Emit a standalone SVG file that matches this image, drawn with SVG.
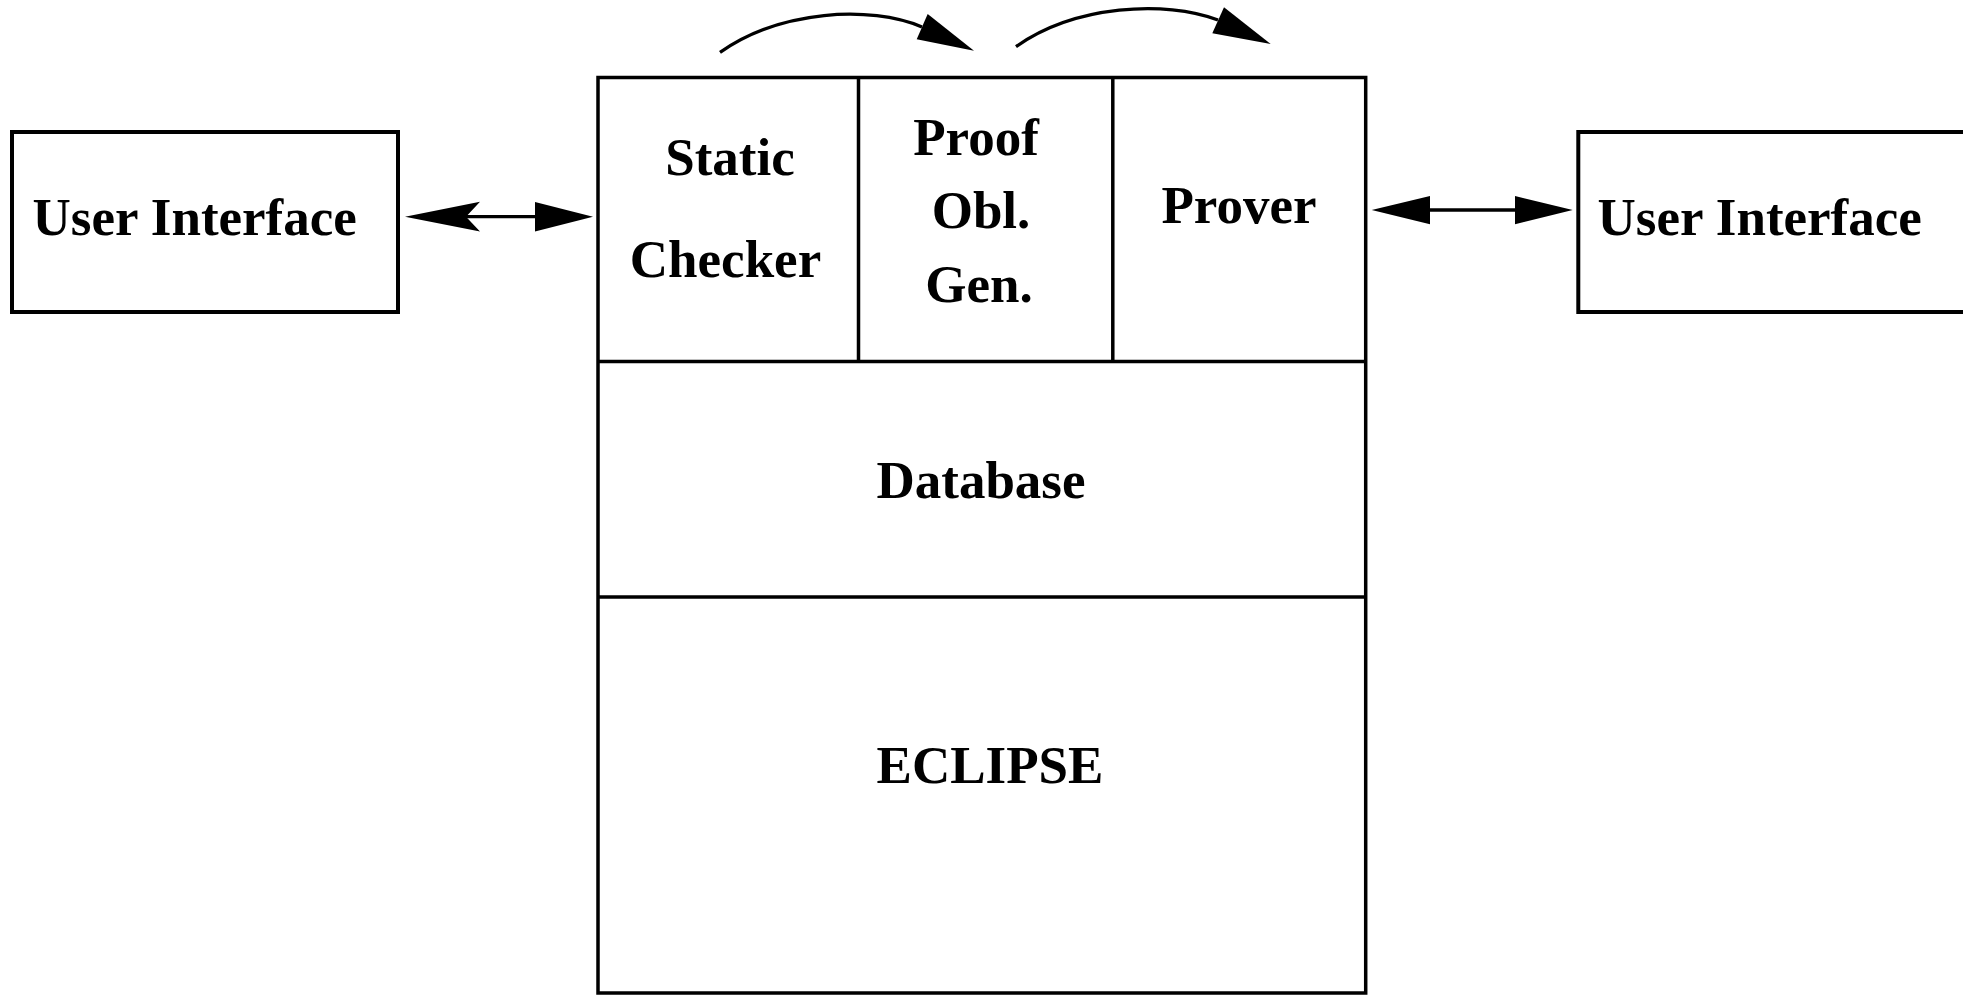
<svg xmlns="http://www.w3.org/2000/svg" width="1963" height="995" viewBox="0 0 1963 995">
<style>
.box{fill:none;stroke:#000;stroke-width:4}
.ln{fill:none;stroke:#000;stroke-width:3.5}
.sh{fill:none;stroke:#000;stroke-width:3.3}
.hd{fill:#000;stroke:none}
text{font-family:"Liberation Serif","Times New Roman",serif;font-weight:bold;font-size:53px;fill:#000;text-anchor:middle}
</style>
<rect x="0" y="0" width="1963" height="995" fill="#fff"/>
<g id="ui-left">
<rect class="box" x="12" y="132" width="386" height="180"/>
<text x="194.7" y="235">User Interface</text>
</g>
<g id="ui-right">
<rect class="box" x="1578.3" y="132" width="420" height="180"/>
<text x="1759.7" y="235">User Interface</text>
</g>
<g id="core">
<rect class="ln" x="598" y="77.5" width="767.7" height="915.5"/>
<line class="ln" x1="598" y1="361.5" x2="1365.7" y2="361.5"/>
<line class="ln" x1="598" y1="597" x2="1365.7" y2="597"/>
</g>
<g id="static-checker">
<line class="ln" x1="858.5" y1="77.5" x2="858.5" y2="361.5"/>
<text x="730" y="175">Static</text>
<text x="725.5" y="276.7">Checker</text>
</g>
<g id="proof-obl-gen">
<line class="ln" x1="1112.8" y1="77.5" x2="1112.8" y2="361.5"/>
<text x="976" y="155">Proof</text>
<text x="981" y="228.3">Obl.</text>
<text x="979" y="301.7">Gen.</text>
</g>
<g id="prover">
<text x="1239" y="223.3">Prover</text>
</g>
<g id="database">
<text x="981" y="498.3">Database</text>
</g>
<g id="eclipse">
<text x="990" y="783.3">ECLIPSE</text>
</g>
<g id="connectors">
<line class="sh" x1="462" y1="216.7" x2="540" y2="216.7"/>
<polygon class="hd" points="405,216.7 480,201.7 466,216.7 480,231.5"/>
<polygon class="hd" points="593,216.7 535,202 535,231.5"/>
<line class="sh" x1="1425" y1="210" x2="1520" y2="210"/>
<polygon class="hd" points="1371.7,210 1430,196 1430,224.3"/>
<polygon class="hd" points="1572.7,210 1515,196 1515,224.3"/>
<path class="sh" d="M720,52.3 C780,10 870,5 922,27"/>
<polygon class="hd" points="974,50.7 927.7,14 916.7,39.3"/>
<path class="sh" d="M1016,46.7 C1075,5 1165,0 1218,20"/>
<polygon class="hd" points="1270.7,44 1224,7.3 1212.3,33.3"/>
</g>
</svg>
